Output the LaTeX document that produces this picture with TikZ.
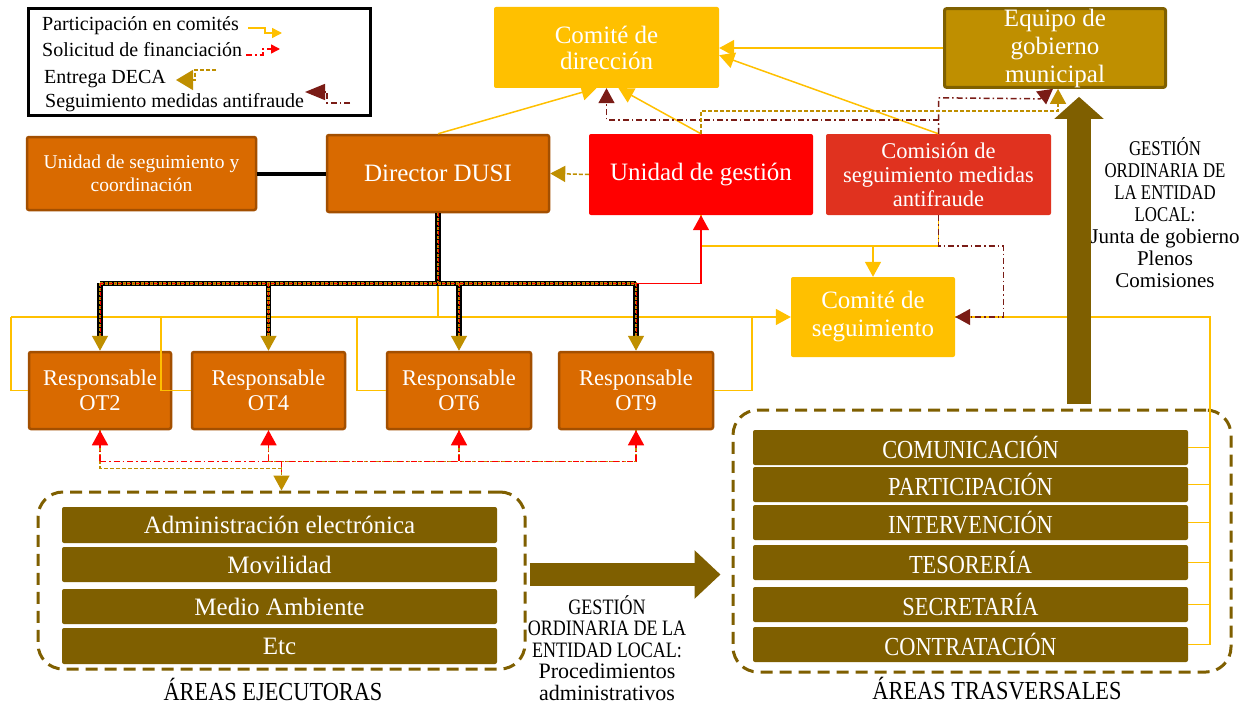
\documentclass[tikz,border=0pt]{standalone}
\usepackage{fontspec}
\setmainfont{Liberation Serif}
\usepackage{graphicx}
\usetikzlibrary{arrows.meta,calc}
\definecolor{cgold}{HTML}{FFC000}
\definecolor{corange}{HTML}{D96A00}
\definecolor{corangeb}{HTML}{A34F00}
\definecolor{cred}{HTML}{FF0000}
\definecolor{ccom}{HTML}{E0321F}
\definecolor{cequipo}{HTML}{BF8F00}
\definecolor{cequipob}{HTML}{7F6000}
\definecolor{cbar}{HTML}{7F5F00}
\definecolor{cdeca}{HTML}{BF8F00}
\definecolor{cdark}{HTML}{7A1C16}
\newcommand\myfs[2]{\fontsize{#1pt}{#2pt}\selectfont}
\newcommand\cnd[1]{\scalebox{0.8}[1]{#1}}
\newcommand\cnb[1]{\scalebox{0.86}[1]{#1}}
\begin{document}
\begin{tikzpicture}[x=1pt,y=-1pt,
 nbox/.style={rectangle,rounded corners=2pt,align=center,text=white,inner sep=0pt},
 obox/.style={nbox,fill=corange,draw=corangeb,line width=2.5pt,minimum height=77pt,font=\myfs{22.5}{25}},
 gbox/.style={nbox,fill=cgold},
 barbox/.style={nbox,fill=cbar,minimum width=435pt},
 areabox/.style={draw=cbar,line width=3pt,dash pattern=on 12pt off 7pt,rounded corners=25pt,inner sep=0pt},
 ylw/.style={draw=cgold,line width=1.5pt},
 arr/.style={-{Triangle[length=15pt,width=16pt]}},
 deca/.style={draw=cdeca,line width=1.5pt,dash pattern=on 4pt off 2pt},
 fin/.style={draw=cred,line width=1.5pt,dash pattern=on 6pt off 3pt on 1.5pt off 3pt},
 anti/.style={draw=cdark,line width=1.5pt,dash pattern=on 6pt off 3pt on 1.5pt off 3pt},
 layerA/.style={draw=black,line width=5.5pt},
 layerB/.style={draw=cdeca,line width=2.5pt,dash pattern=on 3pt off 1.5pt},
 layerC/.style={draw=cred,line width=0.8pt,dash pattern=on 4pt off 2pt on 1pt off 2pt},
 bigarrow/.style={draw=cbar,line width=24pt,-{Triangle[length=22pt,width=48pt]}},
 bigarrowh/.style={draw=cbar,line width=23pt,-{Triangle[length=26pt,width=47pt]}},
 ]
\fill[white] (0,0) rectangle (1246,706);
\useasboundingbox (0,0) rectangle (1246,706);

% legend
\node[draw=black,line width=3pt,minimum width=342pt,minimum height=107pt,inner sep=0pt] (legend) at (199.5,62) {};
\node[anchor=base west,font=\myfs{20}{22},inner sep=0pt] (l1) at (42,31) {Participación en comités};
\node[anchor=base west,font=\myfs{20}{22},inner sep=0pt] (l2) at (42,57) {Solicitud de financiación};
\node[anchor=base west,font=\myfs{20}{22},inner sep=0pt] (l3) at (44,84) {Entrega DECA};
\node[anchor=base west,font=\myfs{20}{22},inner sep=0pt] (l4) at (45,107) {Seguimiento medidas antifraude};
\draw[ylw,-{Triangle[length=10pt,width=10pt]}] (248,28) -- (265,28) -- (265,33) -- (282,33);
\draw[fin,-{Triangle[length=9pt,width=9pt]}] (246,55) -- (263,55) -- (263,49) -- (280,49);
\draw[deca,-{Triangle[length=17pt,width=20pt]}] (216,70) -- (195,70) -- (195,80) -- (176,80);
\draw[anti,-{Triangle[length=20pt,width=16pt]}] (350,103) -- (327,103) -- (327,92) -- (305,92);

% boxes
\node[gbox,minimum width=225pt,minimum height=81pt,font=\myfs{25}{26}] (cdir) at (606.5,47.5) {Comité de\\dirección};
\node[nbox,fill=cequipo,draw=cequipob,line width=3pt,minimum width=221pt,minimum height=77pt,font=\myfs{25}{28}] (equipo) at (1055,48) {Equipo de\\gobierno\\municipal};
\node[obox,minimum width=229pt,minimum height=73pt,font=\myfs{19.5}{23}] (usc) at (141.5,173.5) {Unidad de seguimiento y\\coordinación};
\node[obox,minimum width=222pt,font=\myfs{25}{26}] (dusi) at (438,173.5) {Director DUSI};
\node[nbox,fill=cred,minimum width=224pt,minimum height=81pt,font=\myfs{25}{26}] (ug) at (701,174.5) {Unidad de gestión};
\node[nbox,fill=ccom,minimum width=225pt,minimum height=81pt,font=\myfs{22.5}{24}] (csma) at (938.5,174.5) {Comisión de\\seguimiento medidas\\antifraude};
\node[gbox,minimum width=164pt,minimum height=80pt,font=\myfs{25}{28}] (cseg) at (873,317) {Comité de\\seguimiento};
\node[obox,minimum width=142pt] (ot2) at (100,390.5) {Responsable\\OT2};
\node[obox,minimum width=153pt] (ot4) at (268.5,390.5) {Responsable\\OT4};
\node[obox,minimum width=144pt] (ot6) at (459,390.5) {Responsable\\OT6};
\node[obox,minimum width=154pt] (ot9) at (636,390.5) {Responsable\\OT9};

% executing areas
\node[areabox,minimum width=487pt,minimum height=177pt] (exe) at (281.5,580.5) {};
\node[barbox,minimum height=36pt,font=\myfs{25}{26}] (a1) at (279.5,525) {Administración electrónica};
\node[barbox,minimum height=35pt,font=\myfs{25}{26}] (a2) at (279.5,564.5) {Movilidad};
\node[barbox,minimum height=35pt,font=\myfs{25}{26}] (a3) at (279.5,606.5) {Medio Ambiente};
\node[barbox,minimum height=36pt,font=\myfs{25}{26}] (a4) at (279.5,646) {Etc};
\node[font=\myfs{26}{28},inner sep=0pt] (lexe) at (273,689) {\cnb{ÁREAS EJECUTORAS}};

% transversal areas
\node[areabox,minimum width=498pt,minimum height=262pt] (trans) at (982,541) {};
\node[barbox,minimum height=35pt,font=\myfs{26}{28}] (b1) at (970.5,447.5) {\cnb{COMUNICACIÓN}};
\node[barbox,minimum height=35pt,font=\myfs{26}{28}] (b2) at (970.5,484.5) {\cnb{PARTICIPACIÓN}};
\node[barbox,minimum height=35pt,font=\myfs{26}{28}] (b3) at (970.5,522.5) {\cnb{INTERVENCIÓN}};
\node[barbox,minimum height=35pt,font=\myfs{26}{28}] (b4) at (970.5,562.5) {\cnb{TESORERÍA}};
\node[barbox,minimum height=35pt,font=\myfs{26}{28}] (b5) at (970.5,604.5) {\cnb{SECRETARÍA}};
\node[barbox,minimum height=35pt,font=\myfs{26}{28}] (b6) at (970.5,644.5) {\cnb{CONTRATACIÓN}};
\node[font=\myfs{26}{28},inner sep=0pt] (ltrans) at (997,689) {\cnb{ÁREAS TRASVERSALES}};

% side texts
\node[align=center,font=\myfs{21}{22},inner sep=0pt] (gest1) at (1165,213) {\cnd{GESTIÓN}\\\cnd{ORDINARIA DE}\\\cnd{LA ENTIDAD}\\\cnd{LOCAL:}\\Junta de gobierno\\Plenos\\Comisiones};
\node[align=center,font=\myfs{22}{21.5},inner sep=0pt] (gest2) at (607,648) {\scalebox{0.82}[1]{GESTIÓN}\\\scalebox{0.82}[1]{ORDINARIA DE LA}\\\scalebox{0.82}[1]{ENTIDAD LOCAL:}\\Procedimientos\\administrativos};

% black link
\draw[line width=4pt] (usc.east) -- (dusi.west);

% yellow participation
\coordinate (yl) at (11,317);
\coordinate (j4) at (161,317);
\coordinate (j6) at (357,317);
\coordinate (j9) at (752,317);
\coordinate (yr) at (1210,317);
\coordinate (yj) at ($(ug.south)+(0,31)$);
\draw[ylw,arr] (yl) -- (cseg.west);
\draw[ylw] (yl) |- (ot2.west);
\draw[ylw] (j4) |- (ot4.west);
\draw[ylw] (j6) |- (ot6.west);
\draw[ylw] (j9) |- (ot9.east);
\draw[ylw] (dusi.south) -- (dusi.south |- yl);
\draw[ylw] (ug.south) -- (yj) -| (csma.south);
\draw[ylw,arr] (cseg.north |- yj) -- (cseg.north);
\draw[ylw] (cseg.east) -- (yr) |- (b6.east);
\foreach \bb in {b1,b2,b3,b4,b5} \draw[ylw] (yr |- \bb.east) -- (\bb.east);
\draw[ylw,arr] (equipo.west) -- (cdir.east |- equipo.west);
\draw[ylw,arr] (csma.north) -- ($(cdir.south east)+(0,-33)$);
\draw[ylw,arr] (dusi.north) -- ($(cdir.south)+(-10,0)$);
\draw[ylw,arr] (ug.north) -- ($(cdir.south)+(12,0)$);

% antifraude follow-up
\draw[anti,arr] (csma.north) -- ++(0,-14) -| (cdir.south);
\draw[anti,arr] (csma.north) -- ++(0,-36) -- ($(equipo.south)+(-15,10)$) -- ($(equipo.south)+(-2,0)$);
\draw[anti,arr] (csma.south) -- ++(0,31) -- ++(65,0) |- (cseg.east);

% DECA
\draw[deca,arr] (ug.west) -- (dusi.east);
\draw[deca,arr] (ug.north) -- ++(0,-23) -| ($(equipo.south)+(3,0)$);

% bus from director
\coordinate (bus) at ($(dusi.south)+(0,70)$);
\foreach \ly in {layerA,layerB,layerC}{
  \draw[\ly] (dusi.south) -- (bus);
  \draw[\ly,rounded corners=2pt] (ot2.north |- bus) -- (ot9.north |- bus);
  \foreach \ot in {ot2,ot4,ot6,ot9} \draw[\ly,shorten >=15pt] (\ot.north |- bus) -- (\ot.north);
}
\foreach \ot in {ot2,ot4,ot6,ot9} \draw[draw=cdeca,line width=1.5pt,arr] ($(\ot.north)+(0,-16)$) -- (\ot.north);
\draw[draw=cred,line width=1.5pt,arr] (ot9.north |- bus) -- (ug.south |- bus) -- (ug.south);

% bottom links
\coordinate (rb) at ($(ot2.south)+(0,31)$);
\coordinate (eb) at ($(exe.north)+(0,-22)$);
\draw[deca,arr] (ot2.south) |- (eb) -- (exe.north);
\draw[deca] (ot4.south) |- (ot9.south |- rb) -- (ot9.south);
\draw[deca] (ot6.south) -- (ot6.south |- rb);
\draw[deca] (exe.north |- rb) -- (eb);
\draw[fin] (rb) -- (ot9.south |- rb);
\draw[fin] (exe.north |- rb) -- ($(exe.north)+(0,-17)$);
\foreach \ot in {ot2,ot4,ot6,ot9} \draw[fin,arr] (\ot.south |- rb) -- (\ot.south);

% big arrows
\draw[bigarrow] ($(trans.north)+(97,-5)$) -- ($(equipo.south)+(24,8)$);
\draw[bigarrowh] ($(exe.east)+(3,-6)$) -- ($(trans.west)+(-11,33.5)$);
\end{tikzpicture}
\end{document}
